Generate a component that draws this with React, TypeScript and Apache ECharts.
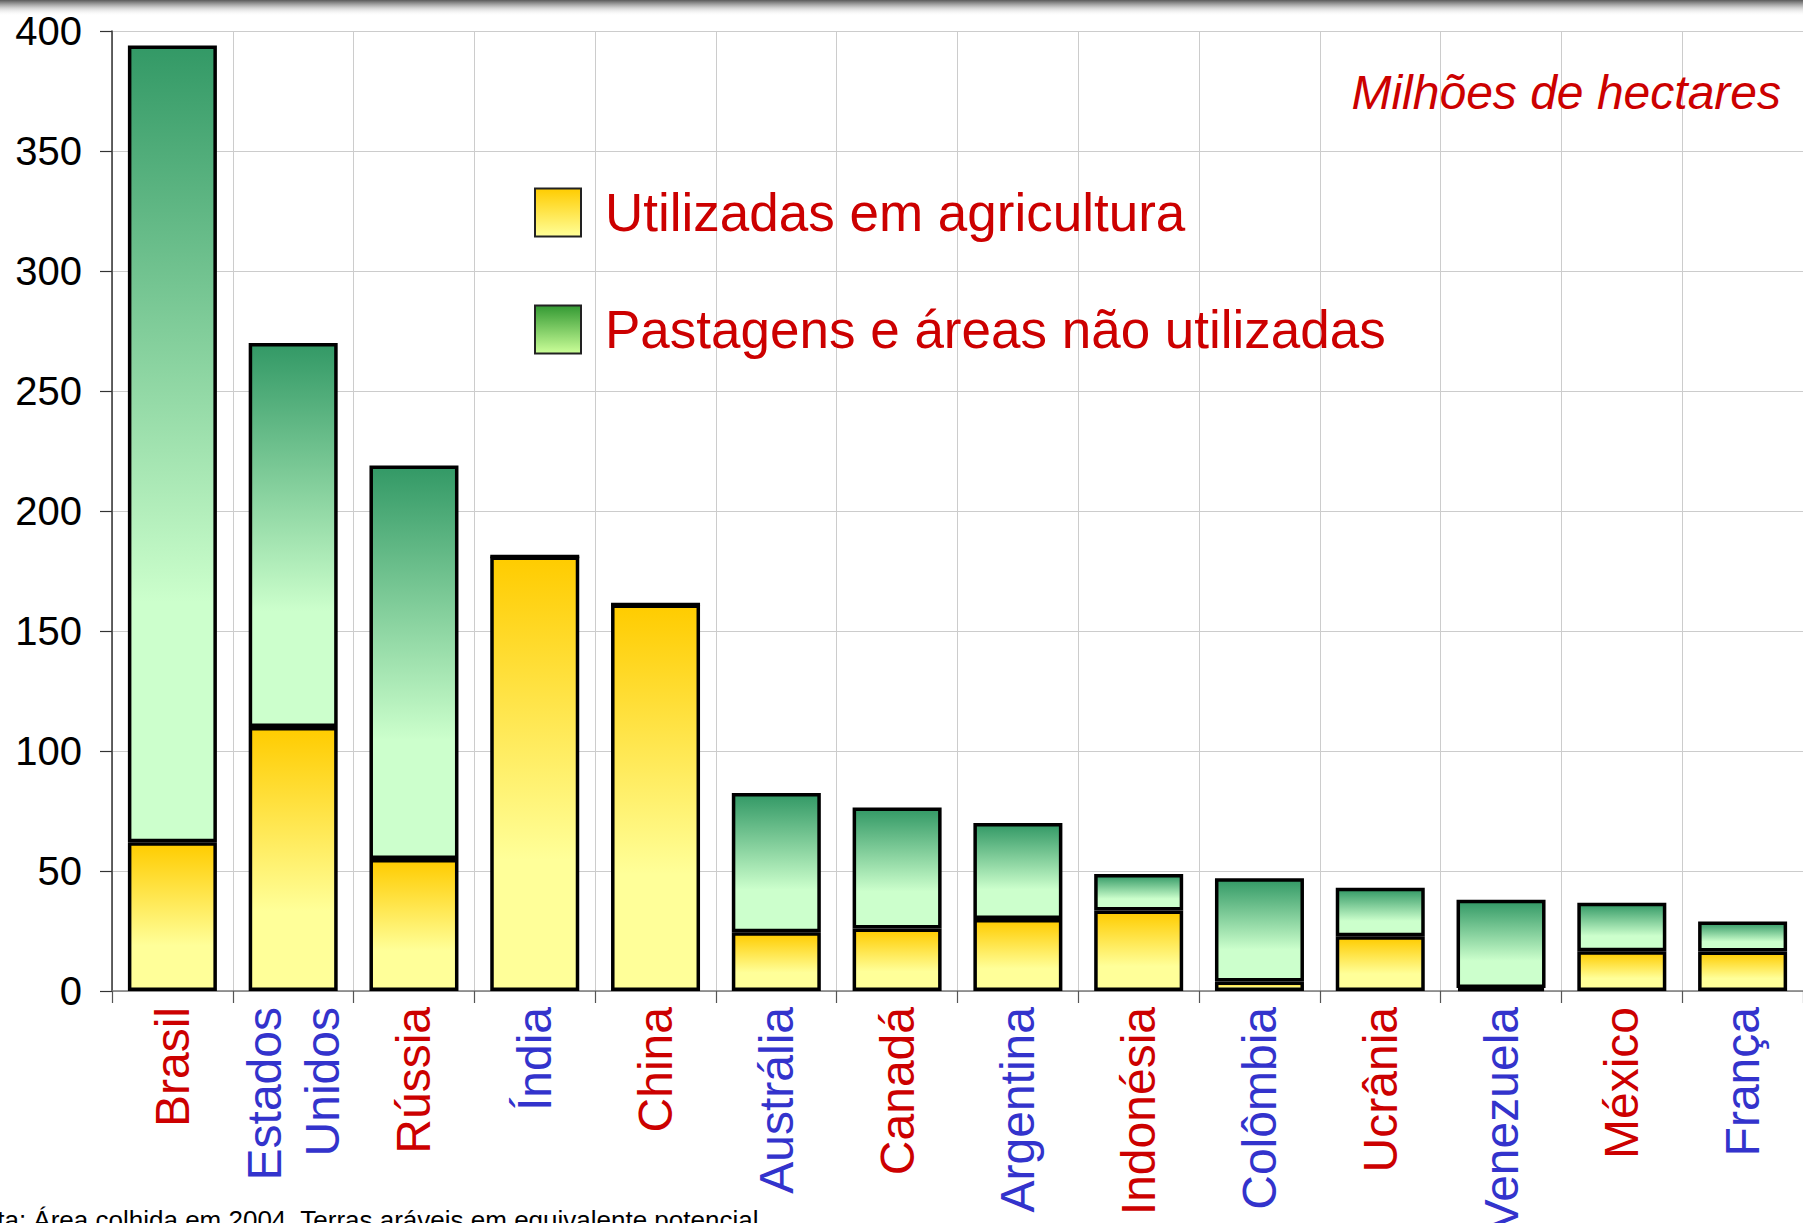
import React, { useEffect, useRef } from "react";
import * as echarts from "echarts";

// ---------- data ----------
const categories = [
  "Brasil",
  "Estados\nUnidos",
  "Rússia",
  "Índia",
  "China",
  "Austrália",
  "Canadá",
  "Argentina",
  "Indonésia",
  "Colômbia",
  "Ucrânia",
  "Venezuela",
  "México",
  "França",
];
const labelColorKeys = ["r", "b", "r", "b", "r", "b", "r", "b", "r", "b", "r", "b", "r", "b"];
const agricultura = [62, 110, 55, 181, 161, 24.5, 26, 30, 33.5, 4, 22.8, 1.2, 16.6, 16.5];
const pastagens = [332, 160, 164, 0, 0, 58, 50.5, 40, 15.3, 43, 20.2, 36.8, 20.2, 12.5];
const seriesNames = ["Utilizadas em agricultura", "Pastagens e áreas não utilizadas"];
const unitTitle = "Milhões de hectares";
const noteText = "Nota: Área colhida em 2004. Terras aráveis em equivalente potencial";
const yMin = 0;
const yMax = 400;
const yInterval = 50;

const FONT = "'Liberation Sans', Arial, sans-serif";
const RED = "#CC0000";
const BLUE = "#3333CC";

const grad = (stops: [number, string][]) =>
  new echarts.graphic.LinearGradient(
    0,
    0,
    0,
    1,
    stops.map(([offset, color]) => ({ offset, color }))
  );

export default function App() {
  const ref = useRef<HTMLDivElement>(null);

  useEffect(() => {
    if (!ref.current) return;
    const chart = echarts.init(ref.current, null, { renderer: "svg" });

    const agriFill = grad([
      [0, "#FFCC00"],
      [0.7, "#FFFF99"],
      [1, "#FFFF99"],
    ]);
    const pastFill = grad([
      [0, "#339966"],
      [0.7, "#CCFFCC"],
      [1, "#CCFFCC"],
    ]);

    const option: any = {
      animation: false,
      backgroundColor: "#ffffff",
      textStyle: { fontFamily: FONT },
      grid: {
        left: 112,
        right: 0,
        top: 31,
        bottom: 232,
        containLabel: false,
        outerBoundsMode: "none",
      },
      legend: {
        orient: "vertical",
        left: 534,
        top: 186,
        padding: 0,
        itemWidth: 46,
        itemHeight: 48,
        itemGap: 64,
        icon: "rect",
        selectedMode: false,
        textStyle: {
          fontFamily: FONT,
          fontSize: 53,
          color: RED,
          lineHeight: 49,
          padding: [0, 0, 0, 19],
        },
        data: [
          {
            name: seriesNames[0],
            itemStyle: {
              color: grad([
                [0, "#FFCC00"],
                [1, "#FFFF99"],
              ]),
              borderColor: "#222",
              borderWidth: 2,
            },
          },
          {
            name: seriesNames[1],
            itemStyle: {
              color: grad([
                [0, "#339933"],
                [1, "#CCFF99"],
              ]),
              borderColor: "#222",
              borderWidth: 2,
            },
          },
        ],
      },
      xAxis: {
        type: "category",
        data: categories,
        boundaryGap: true,
        axisLine: { show: true, lineStyle: { color: "#7a7a7a", width: 1.5 } },
        axisTick: { show: true, length: 12, lineStyle: { color: "#555", width: 1.2 } },
        splitLine: { show: true, lineStyle: { color: "#cccccc", width: 1 } },
        axisLabel: {
          interval: 0,
          rotate: 90,
          margin: 16,
          hideOverlap: false,
          formatter: (value: string, idx: number) =>
            value
              .split("\n")
              .map((line) => `{${labelColorKeys[idx]}|${line}}`)
              .join("\n"),
          rich: {
            r: { color: RED, fontSize: 48, fontFamily: FONT, lineHeight: 58 },
            b: { color: BLUE, fontSize: 48, fontFamily: FONT, lineHeight: 58 },
          },
        },
      },
      yAxis: {
        type: "value",
        min: yMin,
        max: yMax,
        interval: yInterval,
        axisLine: { show: true, lineStyle: { color: "#333", width: 1.5 } },
        axisTick: { show: true, length: 12, lineStyle: { color: "#333", width: 1.2 } },
        splitLine: { show: true, lineStyle: { color: "#cccccc", width: 1 } },
        axisLabel: { color: "#000", fontSize: 40, fontFamily: FONT, margin: 30 },
      },
      series: [
        {
          name: seriesNames[0],
          type: "bar",
          stack: "total",
          barWidth: 89,
          data: agricultura,
          itemStyle: { color: agriFill, borderColor: "#000", borderWidth: 3.5 },
        },
        {
          name: seriesNames[1],
          type: "bar",
          stack: "total",
          barWidth: 89,
          data: pastagens,
          itemStyle: { color: pastFill, borderColor: "#000", borderWidth: 3.5 },
        },
      ],
      graphic: [
        {
          type: "rect",
          left: 0,
          top: 0,
          shape: { width: 1803, height: 16 },
          style: {
            fill: new echarts.graphic.LinearGradient(0, 0, 0, 1, [
              { offset: 0, color: "rgba(90,90,90,1)" },
              { offset: 0.5, color: "rgba(200,200,200,0.8)" },
              { offset: 1, color: "rgba(255,255,255,0)" },
            ]),
          },
          silent: true,
          z: 100,
        },
        {
          type: "text",
          x: 1781,
          y: 92,
          style: {
            text: unitTitle,
            fill: RED,
            fontSize: 48,
            fontStyle: "italic",
            fontFamily: FONT,
            align: "right",
            verticalAlign: "middle",
          },
          z: 100,
        },
        {
          type: "text",
          x: -36,
          y: 1207,
          style: {
            text: noteText,
            fill: "#000",
            fontSize: 26,
            fontFamily: FONT,
            align: "left",
            verticalAlign: "top",
          },
          z: 100,
        },
      ],
    };

    chart.setOption(option);
    return () => chart.dispose();
  }, []);

  return (
    <div
      ref={ref}
      style={{ position: "absolute", left: 0, top: 0, width: 1803, height: 1223 }}
    />
  );
}
